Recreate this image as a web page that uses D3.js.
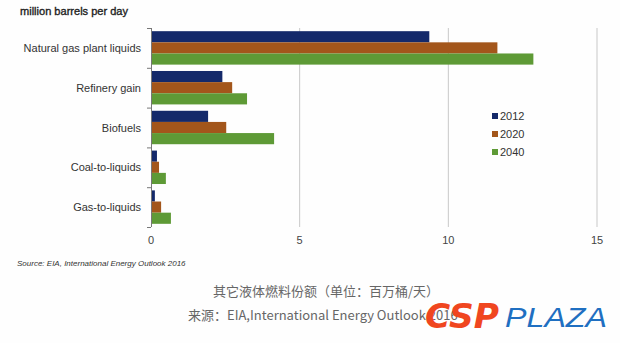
<!DOCTYPE html>
<html><head><meta charset="utf-8">
<script src="https://cdn.jsdelivr.net/npm/d3@7"></script>
<style>body{margin:0;background:#fff;}svg{display:block;}</style>
</head><body>
<svg id="c" width="620" height="343"></svg>
<script>
const categories = ["Natural gas plant liquids","Refinery gain","Biofuels","Coal-to-liquids","Gas-to-liquids"];
const seriesNames = ["2012","2020","2040"];
const values2012 = [9.36, 2.4, 1.92, 0.2, 0.13];
const values2020 = [11.65, 2.73, 2.53, 0.27, 0.34];
const values2040 = [12.86, 3.23, 4.14, 0.5, 0.67];
const colors = ["#14296a", "#a3561b", "#5e9a36"];
const xTicks = [0, 5, 10, 15];

(function(){
const series = [values2012, values2020, values2040];
const svg = d3.select("#c");
svg.append("rect").attr("width",620).attr("height",343).attr("fill","#fefefe");

const pL = 151, pR = 597, pT = 28, pB = 227;
const x = d3.scaleLinear().domain([0,15]).range([pL,pR]);
const y = d3.scaleBand().domain(categories).range([pT,pB]).paddingInner(0.16).paddingOuter(0.08);
const yb = d3.scaleBand().domain(categories).range([pT,pB]);
const inner = d3.scaleBand().domain(seriesNames).range([0,y.bandwidth()]);

// gridlines
svg.append("g").selectAll("line").data(xTicks.filter(d=>d>0)).join("line")
  .attr("x1",d=>x(d)).attr("x2",d=>x(d)).attr("y1",pT).attr("y2",pB)
  .attr("stroke","#c8c8c8").attr("stroke-width",1);

// bars
series.forEach((vals,si)=>{
  svg.append("g").selectAll("rect").data(categories).join("rect")
    .attr("x",x(0)).attr("y",(c)=>y(c)+inner(seriesNames[si]))
    .attr("width",(c,i)=>x(vals[i])-x(0)).attr("height",inner.bandwidth())
    .attr("fill",colors[si]);
});

// y axis
const ya = svg.append("g");
ya.append("line").attr("x1",pL+0.5).attr("x2",pL+0.5).attr("y1",pT).attr("y2",pB).attr("stroke","#777");
const bounds = categories.map(c=>yb(c)).concat([pB]);
ya.selectAll("line.t").data(bounds).join("line").attr("class","t")
  .attr("x1",pL-4).attr("x2",pL).attr("y1",d=>d+0.5).attr("y2",d=>d+0.5).attr("stroke","#777");
ya.selectAll("text").data(categories).join("text")
  .attr("x",141).attr("y",c=>yb(c)+yb.bandwidth()/2+4)
  .attr("text-anchor","end").attr("font-family","Liberation Sans, Arial, sans-serif")
  .attr("font-size",11).attr("fill","#333").text(d=>d);

// x tick labels
svg.append("g").selectAll("text").data(xTicks).join("text")
  .attr("x",d=>x(d)).attr("y",244).attr("text-anchor","middle")
  .attr("font-family","Liberation Sans, Arial, sans-serif").attr("font-size",11).attr("fill","#444")
  .text(d=>d);

// title
svg.append("text").attr("x",20).attr("y",15).attr("font-family","Liberation Sans, Arial, sans-serif")
  .attr("font-size",11).attr("fill","#222").attr("stroke","#222").attr("stroke-width",0.35)
  .attr("textLength",108).attr("lengthAdjust","spacingAndGlyphs").text("million barrels per day");

// legend
const lg = svg.append("g");
seriesNames.forEach((s,i)=>{
  const cy = 116 + i*18;
  lg.append("rect").attr("x",492).attr("y",cy-3).attr("width",6).attr("height",6).attr("fill",colors[i]);
  lg.append("text").attr("x",500).attr("y",cy+4).attr("font-family","Liberation Sans, Arial, sans-serif")
    .attr("font-size",11).attr("fill","#333").text(s);
});

// source
svg.append("text").attr("x",17).attr("y",266).attr("font-family","Liberation Sans, Arial, sans-serif")
  .attr("font-size",8).attr("font-style","italic").attr("fill","#333")
  .text("Source:  EIA, International Energy Outlook 2016");

// Chinese captions
svg.append("text").attr("x",326).attr("y",296).attr("text-anchor","middle")
  .attr("font-family","Noto Sans CJK SC, sans-serif").attr("font-size",13).attr("fill","#666")
  .text("其它液体燃料份额（单位：百万桶/天）");
svg.append("text").attr("x",188).attr("y",320)
  .attr("font-family","Noto Sans CJK SC, sans-serif").attr("font-size",13).attr("fill","#666")
  .text("来源：EIA,International Energy Outlook 2016");

// logo
svg.append("text").attr("x",425).attr("y",328).attr("font-family","DejaVu Sans, sans-serif")
  .attr("font-size",33).attr("font-weight","bold").attr("font-style","italic").attr("fill","#f0461f")
  .attr("textLength",74).attr("lengthAdjust","spacingAndGlyphs").text("CSP");
svg.append("text").attr("x",505).attr("y",327).attr("font-family","Liberation Sans, Arial, sans-serif")
  .attr("font-size",28).attr("font-style","italic").attr("fill","#1f6fc1")
  .attr("textLength",102).attr("lengthAdjust","spacingAndGlyphs").text("PLAZA");
})();
</script>
</body></html>
